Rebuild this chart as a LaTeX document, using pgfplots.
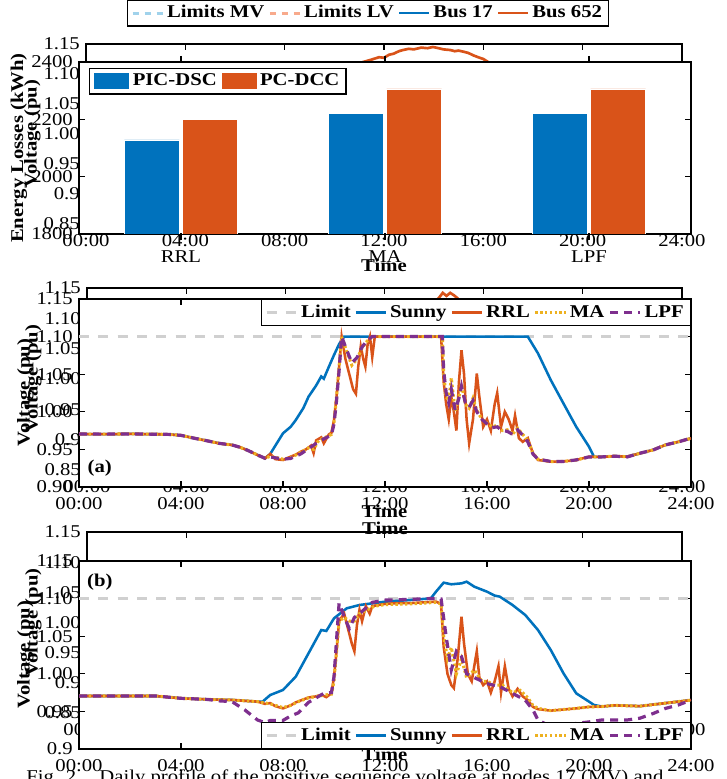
\documentclass[border=0pt]{standalone}
\usepackage{fontspec}
\setmainfont{Liberation Serif}[FakeStretch=1.15]
\usepackage{pgfplots}
\pgfplotsset{compat=1.18}
\definecolor{mblue}{RGB}{0,114,189}
\definecolor{morange}{RGB}{217,83,25}
\definecolor{myellow}{RGB}{237,177,32}
\definecolor{mpurple}{RGB}{126,47,142}
\definecolor{mgray}{RGB}{208,208,208}
\definecolor{mvblue}{RGB}{160,210,235}
\definecolor{lvsalmon}{RGB}{248,170,140}
\pgfplotsset{
  base/.style={scale only axis, anchor=south west, axis line style={line width=0.9pt},
    tick style={black,line width=0.9pt}, major tick length=4.5pt, tick align=inside,
    /pgf/number format/assume math mode=true, xticklabel style={yshift=-3pt}},
  volt/.style={base, xmin=0, xmax=24, xtick={0,4,8,12,16,20,24},
    xticklabels={00:00,04:00,08:00,12:00,16:00,20:00,24:00},
    xlabel={\textbf{Time}}, ylabel={\textbf{Voltage (pu)}}, ylabel shift=-7pt},
  backv/.style={volt, ymin=0.85, ymax=1.15, ytick={0.85,0.9,0.95,1.0,1.05,1.1,1.15},
    yticklabels={0.85,0.9,0.95,1.00,1.05,1.10,1.15}},
  front/.style={axis background/.style={fill=white}},
  linelegend/.style={legend image code/.code={\draw[##1] (0cm,0cm) -- (0.8cm,0cm);}},
  lim/.style={color=mgray, line width=2.3pt, dash pattern=on 7.5pt off 7pt},
  sunny/.style={color=mblue, line width=1.9pt},
  rrl/.style={color=morange, line width=1.9pt},
  ma/.style={color=myellow, line width=2.3pt, dash pattern=on 1.8pt off 1.8pt},
  lpf/.style={color=mpurple, line width=2.4pt, dash pattern=on 6pt off 4.5pt},
}
\begin{document}
\fontsize{13.5pt}{16pt}\selectfont
\begin{tikzpicture}
\useasboundingbox (0,0) rectangle (544.5pt,584.25pt);
% ---------- top: background voltage axis ----------
\begin{axis}[backv, at={(64.5pt,416.25pt)}, width=447pt, height=135pt, linelegend,
  legend columns=4,
  legend style={at={(0.473,1.172)}, anchor=center, font=\bfseries, line width=0.9pt,
    /tikz/every even column/.append style={column sep=1pt}}]
\addplot[color=mvblue, line width=2.2pt, dash pattern=on 5pt off 4pt] coordinates {(0,1.05) (24,1.05)};
\addlegendentry{Limits MV}
\addplot[color=lvsalmon, line width=2.2pt, dash pattern=on 5pt off 4pt] coordinates {(0,1.10) (24,1.10)};
\addlegendentry{Limits LV}
\addplot[color=mblue, line width=2pt] coordinates {(0,1.0) (6,0.99) (8,1.01) (12,1.04) (16,1.03) (20,0.99) (24,1.0)};
\addlegendentry{Bus 17}
\addplot[color=morange, line width=2pt] coordinates {(0,0.99) (2,0.988) (4,0.985) (6,0.975) (7,0.97) (8,0.99) (9,1.03) (10,1.07) (10.5,1.09) (11,1.112) (11.16,1.12) (11.5,1.124) (11.8,1.128) (12.0,1.127) (12.2,1.132) (12.4,1.134) (12.6,1.138) (12.77,1.140) (13.0,1.142) (13.2,1.141) (13.5,1.144) (13.75,1.143) (13.97,1.145) (14.2,1.143) (14.4,1.141) (14.66,1.140) (14.85,1.138) (15.0,1.139) (15.22,1.137) (15.4,1.135) (15.6,1.131) (15.79,1.128) (16.0,1.125) (16.23,1.119) (16.6,1.10) (17,1.085) (18,1.045) (19,1.01) (20,0.99) (22,0.985) (24,0.99)};
\addlegendentry{Bus 652}
\addplot[color=mvblue, line width=2.2pt, dash pattern=on 5pt off 4pt, forget plot] coordinates {(0,0.95) (24,0.95)};
\addplot[color=lvsalmon, line width=2.2pt, dash pattern=on 5pt off 4pt, forget plot] coordinates {(0,0.90) (24,0.90)};
\end{axis}
% ---------- top: bar chart ----------
\begin{axis}[base, front, at={(59.25pt,408.75pt)}, width=459pt, height=129pt,
  ybar=2.5pt, bar width=41.25pt, xmin=0.5, xmax=3.5, xtick={1,2,3}, xticklabels={RRL,MA,LPF},
  ymin=1800, ymax=2400, ytick={1800,2000,2200,2400}, yticklabels={1800,2000,2200,2400},
  ylabel={\textbf{Energy Losses (kWh)}}, ylabel shift=-6pt,
  legend columns=2,
  legend image code/.code={\fill[#1] (0cm,-0.22cm) rectangle (0.95cm,0.24cm);},
  legend style={at={(0.016,0.965)}, anchor=north west, font=\bfseries, line width=0.9pt,
    /tikz/every even column/.append style={column sep=1pt}}]
\addplot[fill=mblue, draw=white, line width=0.5pt] coordinates {(1,2128) (2,2220) (3,2220)};
\addlegendentry{PIC-DSC}
\addplot[fill=morange, draw=white, line width=0.5pt] coordinates {(1,2201) (2,2306) (3,2306)};
\addlegendentry{PC-DCC}
\end{axis}
% ---------- (a) background axis ----------
\begin{axis}[backv, at={(65.25pt,231.75pt)}, width=446.25pt, height=136.5pt]
\addplot[color=morange, line width=2pt] coordinates {(0,0.99) (4,0.985) (7,0.97) (8,0.985) (9,1.02) (10,1.06) (11,1.09) (12,1.105) (13,1.11) (13.8,1.115) (14.05,1.128) (14.2,1.134) (14.35,1.142) (14.5,1.137) (14.65,1.142) (14.8,1.138) (14.95,1.133) (15.1,1.12) (15.5,1.10) (16.5,1.08) (18,1.03) (20,0.99) (24,0.99)};
\end{axis}
% ---------- (a) front axis ----------
\begin{axis}[volt, front, at={(59.25pt,219pt)}, width=459pt, height=141pt,
  ymin=0.9, ymax=1.15, ytick={0.9,0.95,1.0,1.05,1.1,1.15}, yticklabels={0.90,0.95,1.00,1.05,1.10,1.15},
  linelegend, legend columns=5,
  legend style={at={(1,1)}, anchor=north east, font=\bfseries, line width=0.9pt,
    /tikz/every even column/.append style={column sep=1pt}}]
\addplot[lim] coordinates {(0,1.10) (24,1.10)};
\addlegendentry{Limit}
\addplot[sunny] coordinates {(0,0.9705) (1,0.9703) (2,0.9706) (3,0.9702) (3.5,0.9700) (4,0.9687) (4.5,0.965) (5,0.9616) (5.5,0.958) (6,0.9559) (6.3,0.953) (6.6,0.949) (7,0.9426) (7.3,0.9381) (7.5,0.944) (7.7,0.955) (8,0.9714) (8.3,0.980) (8.5,0.989) (8.8,1.005) (9,1.020) (9.3,1.035) (9.5,1.047) (9.6,1.044) (9.8,1.060) (10,1.0755) (10.2,1.090) (10.4,1.100) (17.6,1.100) (18,1.0777) (18.5,1.0423) (19,1.011) (19.5,0.980) (20,0.9536) (20.2,0.940) (20.5,0.940) (21,0.941) (21.5,0.9403) (22,0.9448) (22.5,0.9492) (23,0.956) (23.5,0.960) (24,0.9647)};
\addlegendentry{Sunny}
\addplot[rrl] coordinates {(0,0.9705) (1,0.9703) (2,0.9706) (3,0.9702) (3.5,0.9700) (4,0.9687) (4.5,0.965) (5,0.9616) (5.5,0.958) (6,0.9559) (6.3,0.953) (6.6,0.949) (7,0.9426) (7.3,0.9381) (7.5,0.944) (7.7,0.937) (8,0.9359) (8.3,0.9403) (8.5,0.943) (8.7,0.947) (8.9,0.950) (9.1,0.955) (9.2,0.945) (9.3,0.962) (9.5,0.966) (9.6,0.958) (9.8,0.970) (9.9,0.972) (10.0,0.989) (10.1,1.020) (10.2,1.060) (10.3,1.100) (10.45,1.070) (10.6,1.050) (10.75,1.030) (10.86,1.024) (10.95,1.060) (11.05,1.087) (11.15,1.070) (11.23,1.060) (11.32,1.090) (11.41,1.100) (11.5,1.073) (11.6,1.100) (12,1.100) (14.2,1.100) (14.3,1.040) (14.4,1.010) (14.5,0.990) (14.6,1.020) (14.7,1.000) (14.8,0.975) (14.9,1.040) (15.0,1.082) (15.1,1.050) (15.2,0.990) (15.3,0.958) (15.45,0.990) (15.6,1.051) (15.7,1.020) (15.85,0.980) (16.0,0.990) (16.15,0.975) (16.3,1.010) (16.4,1.025) (16.55,0.980) (16.7,1.000) (16.85,0.990) (17.0,0.975) (17.1,0.995) (17.25,0.965) (17.4,0.960) (17.6,0.965) (17.8,0.945) (18,0.9359) (18.5,0.9337) (19,0.934) (19.5,0.9359) (20,0.9403) (20.5,0.940) (21,0.941) (21.5,0.9403) (22,0.9448) (22.5,0.9492) (23,0.956) (23.5,0.960) (24,0.9647)};
\addlegendentry{RRL}
\addplot[ma] coordinates {(0,0.9705) (1,0.9703) (2,0.9706) (3,0.9702) (3.5,0.9700) (4,0.9687) (4.5,0.965) (5,0.9616) (5.5,0.958) (6,0.9559) (6.3,0.953) (6.6,0.949) (7,0.9426) (7.3,0.9381) (7.5,0.941) (8,0.937) (8.3,0.939) (8.7,0.946) (9,0.952) (9.2,0.950) (9.4,0.962) (9.6,0.965) (9.9,0.970) (10.0,0.986) (10.1,1.020) (10.2,1.060) (10.3,1.100) (10.5,1.080) (10.7,1.062) (10.9,1.070) (11.1,1.085) (11.3,1.094) (11.5,1.100) (12,1.100) (14.25,1.100) (14.3,1.050) (14.4,1.020) (14.5,1.015) (14.6,1.045) (14.75,1.000) (14.9,1.020) (15.0,1.037) (15.15,1.010) (15.3,1.005) (15.45,1.018) (15.6,1.002) (15.8,0.990) (16.0,0.985) (16.2,0.980) (16.4,0.982) (16.6,0.975) (16.8,0.976) (17.0,0.970) (17.2,0.978) (17.4,0.970) (17.6,0.962) (17.8,0.945) (18,0.937) (18.5,0.9337) (19,0.934) (19.5,0.936) (20,0.940) (20.5,0.940) (21,0.941) (21.5,0.9403) (22,0.9448) (22.5,0.9492) (23,0.956) (23.5,0.960) (24,0.9647)};
\addlegendentry{MA}
\addplot[lpf] coordinates {(0,0.9705) (1,0.9703) (2,0.9706) (3,0.9702) (3.5,0.9700) (4,0.9687) (4.5,0.965) (5,0.9616) (5.5,0.958) (6,0.9559) (6.3,0.953) (6.6,0.949) (7,0.9426) (7.3,0.9381) (7.5,0.940) (8,0.937) (8.3,0.938) (8.7,0.944) (9,0.951) (9.3,0.958) (9.6,0.964) (9.9,0.969) (10.0,0.984) (10.1,1.015) (10.2,1.055) (10.3,1.100) (10.5,1.082) (10.7,1.065) (10.9,1.072) (11.1,1.086) (11.3,1.095) (11.5,1.100) (12,1.100) (14.25,1.100) (14.3,1.055) (14.4,1.025) (14.5,1.012) (14.6,1.030) (14.75,1.002) (14.9,1.018) (15.0,1.034) (15.15,1.012) (15.3,1.006) (15.45,1.015) (15.6,1.000) (15.8,0.990) (16.0,0.984) (16.2,0.979) (16.4,0.980) (16.6,0.975) (16.8,0.974) (17.0,0.970) (17.2,0.976) (17.4,0.969) (17.6,0.960) (17.8,0.944) (18,0.937) (18.5,0.934) (19,0.934) (19.5,0.936) (20,0.940) (20.5,0.940) (21,0.941) (21.5,0.940) (22,0.945) (22.5,0.949) (23,0.956) (23.5,0.960) (24,0.965)};
\addlegendentry{LPF}
\node[font=\bfseries] at (rel axis cs:0.034,0.10) {(a)};
\end{axis}
% ---------- (b) background axis ----------
\begin{axis}[backv, at={(65.25pt,49.5pt)}, width=446.25pt, height=135.75pt]
\end{axis}
% ---------- (b) front axis ----------
\begin{axis}[volt, front, at={(59.25pt,22.5pt)}, width=459pt, height=141pt,
  ymin=0.9, ymax=1.15, ytick={0.9,0.95,1.0,1.05,1.1,1.15}, yticklabels={0.9,0.95,1.00,1.05,1.10,1.15},
  linelegend, legend columns=5,
  legend style={at={(1,0)}, anchor=south east, font=\bfseries, line width=0.9pt,
    /tikz/every even column/.append style={column sep=1pt}}]
\addplot[lim] coordinates {(0,1.10) (24,1.10)};
\addlegendentry{Limit}
\addplot[sunny] coordinates {(0,0.9705) (3,0.9705) (4,0.9674) (5,0.966) (6,0.9652) (7,0.963) (7.2,0.963) (7.5,0.9718) (8,0.9785) (8.5,0.9962) (9,1.0272) (9.5,1.0582) (9.7,1.057) (10,1.0738) (10.5,1.0871) (11,1.0915) (12,1.0959) (13,1.0981) (13.8,1.1004) (14,1.1092) (14.3,1.1212) (14.6,1.119) (15,1.1203) (15.2,1.1225) (15.5,1.1159) (16,1.1092) (16.3,1.104) (16.5,1.1026) (17,1.0915) (17.5,1.0782) (18,1.0582) (18.5,1.0317) (19,1.0006) (19.5,0.974) (20,0.963) (20.2,0.9585) (20.5,0.9565) (21,0.958) (21.5,0.9575) (22,0.957) (22.5,0.959) (23,0.961) (23.5,0.963) (24,0.965)};
\addlegendentry{Sunny}
\addplot[rrl] coordinates {(0,0.9705) (3,0.9705) (4,0.9674) (5,0.966) (6,0.9652) (7,0.963) (7.3,0.960) (7.5,0.961) (7.7,0.957) (8,0.954) (8.3,0.958) (8.5,0.962) (9,0.9685) (9.3,0.970) (9.5,0.972) (9.7,0.969) (9.9,0.974) (10.0,0.996) (10.1,1.030) (10.2,1.070) (10.3,1.075) (10.4,1.080) (10.55,1.060) (10.7,1.040) (10.8,1.030) (10.9,1.065) (11.0,1.085) (11.1,1.070) (11.25,1.090) (11.4,1.080) (11.5,1.090) (12,1.093) (12.5,1.094) (13,1.094) (13.5,1.095) (14,1.096) (14.2,1.093) (14.3,1.036) (14.45,1.000) (14.6,0.985) (14.7,0.981) (14.85,1.020) (15.0,1.076) (15.1,1.040) (15.25,1.000) (15.4,0.990) (15.6,1.030) (15.7,0.995) (15.85,0.985) (16.0,0.990) (16.15,0.975) (16.3,0.990) (16.45,1.010) (16.55,0.975) (16.7,1.010) (16.85,0.980) (17.0,0.970) (17.2,0.980) (17.4,0.970) (17.6,0.965) (17.8,0.956) (18,0.953) (18.5,0.951) (19,0.9525) (19.5,0.954) (20,0.956) (20.5,0.9565) (21,0.958) (21.5,0.9575) (22,0.957) (22.5,0.959) (23,0.961) (23.5,0.963) (24,0.965)};
\addlegendentry{RRL}
\addplot[ma] coordinates {(0,0.9705) (3,0.9705) (4,0.9674) (5,0.966) (6,0.9652) (7,0.963) (7.5,0.960) (8,0.955) (8.3,0.958) (8.6,0.963) (9,0.968) (9.5,0.971) (9.9,0.973) (10,0.990) (10.2,1.070) (10.4,1.075) (10.6,1.070) (10.8,1.070) (11,1.080) (11.3,1.085) (11.6,1.090) (12,1.092) (13,1.093) (14,1.095) (14.2,1.093) (14.3,1.050) (14.45,1.020) (14.6,1.035) (14.8,1.000) (15,1.020) (15.2,0.995) (15.5,1.005) (15.8,0.990) (16,0.990) (16.3,0.985) (16.6,0.985) (17,0.975) (17.3,0.978) (17.6,0.968) (17.8,0.958) (18,0.954) (18.5,0.951) (19,0.9525) (19.5,0.954) (20,0.956) (20.5,0.9565) (21,0.958) (21.5,0.9575) (22,0.957) (22.5,0.959) (23,0.961) (23.5,0.963) (24,0.965)};
\addlegendentry{MA}
\addplot[lpf] coordinates {(0,0.9705) (3,0.9705) (4,0.9674) (5,0.966) (5.5,0.964) (6,0.963) (6.5,0.952) (7,0.9386) (7.3,0.935) (7.5,0.938) (8,0.938) (8.3,0.944) (8.6,0.948) (9,0.962) (9.3,0.968) (9.6,0.974) (9.9,0.975) (10.0,0.996) (10.2,1.094) (10.4,1.076) (10.6,1.060) (10.8,1.075) (11,1.080) (11.5,1.095) (12,1.098) (13,1.099) (14,1.1004) (14.2,1.0995) (14.4,1.049) (14.6,1.005) (14.8,1.030) (15,1.023) (15.2,1.000) (15.5,0.995) (16,0.987) (16.5,0.983) (17,0.974) (17.5,0.965) (17.8,0.952) (18,0.9386) (18.5,0.9297) (19,0.9297) (19.5,0.934) (20,0.936) (20.5,0.9386) (21,0.9386) (21.5,0.9386) (22,0.941) (22.5,0.947) (23,0.954) (23.5,0.9585) (24,0.965)};
\addlegendentry{LPF}
\node[font=\bfseries] at (rel axis cs:0.034,0.888) {(b)};
\end{axis}
\node[anchor=base west, inner sep=0pt] at (19.5pt,-2.6pt) {Fig. 2.\quad Daily profile of the positive sequence voltage at nodes 17 (MV) and};
\end{tikzpicture}
\end{document}
